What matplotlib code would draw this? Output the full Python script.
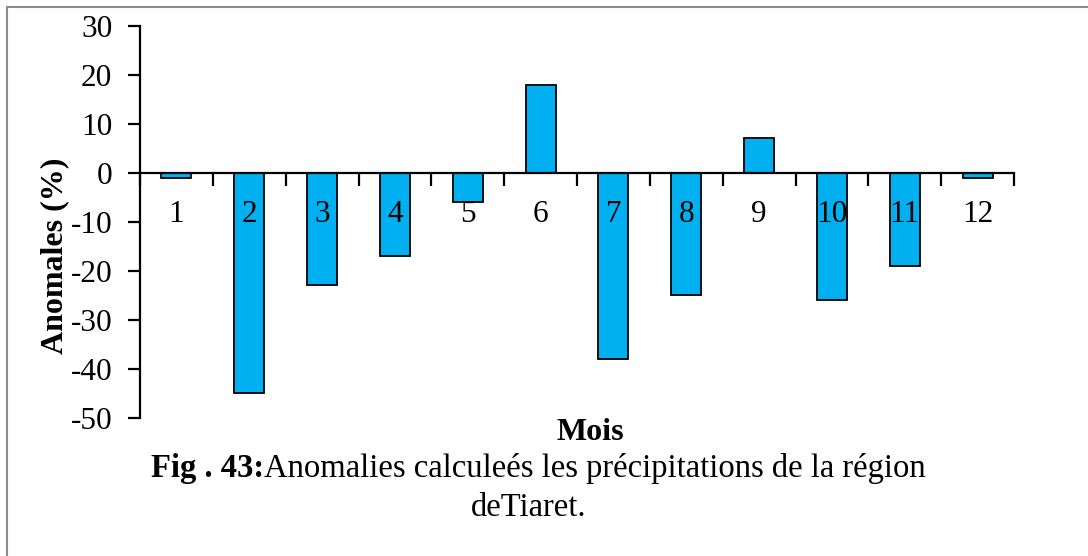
import matplotlib
matplotlib.use("Agg")
import matplotlib.pyplot as plt
from matplotlib.patches import Rectangle
from matplotlib.ticker import FixedLocator

months = ["1", "2", "3", "4", "5", "6", "7", "8", "9", "10", "11", "12"]
anomalies = [-1, -45, -23, -17, -6, 18, -38, -25, 7, -26, -19, -1]
y_ticks = [30, 20, 10, 0, -10, -20, -30, -40, -50]

plt.rcParams["font.family"] = ["Liberation Serif", "DejaVu Serif"]

fig = plt.figure(figsize=(10.88, 5.56), dpi=100)
ax = fig.add_axes([140 / 1088, 1 - 417.7 / 556, (1014 - 140) / 1088, (417.7 - 25.7) / 556])
ax.set_axisbelow(False)

x = list(range(1, len(months) + 1))
ax.bar(x, anomalies, width=0.41, color="#00B0F0", edgecolor="black",
       linewidth=1.3, zorder=2)

ax.set_xlim(0.5, len(months) + 0.5)
ax.set_ylim(-50, 30)

# spines: only left axis and a horizontal axis through zero
for side in ("top", "right"):
    ax.spines[side].set_visible(False)
ax.spines["bottom"].set_position(("data", 0))
ax.spines["bottom"].set_linewidth(1.6)
ax.spines["left"].set_linewidth(1.6)
ax.spines["bottom"].set_zorder(3)

tick_size = 22.5
ax.set_yticks(y_ticks)
ax.set_yticklabels([str(v) for v in y_ticks])
ax.tick_params(axis="y", direction="out", length=9, width=1.6, pad=11,
               labelsize=tick_size)

ax.set_xticks(x)
ax.set_xticklabels(months)
ax.xaxis.set_minor_locator(FixedLocator([i + 0.5 for i in range(0, len(months) + 1)]))
ax.tick_params(axis="x", which="major", length=0, pad=20, labelsize=tick_size)
ax.tick_params(axis="x", which="minor", direction="out", length=9, width=1.6)

# axis titles
fig.text(55 / 1088, 1 - 256 / 556, "Anomales (%)", rotation=90, fontsize=23,
         fontweight="bold", ha="center", va="center")
fig.text(590 / 1088, 1 - 432 / 556, "Mois", fontsize=23, fontweight="bold",
         ha="center", va="center")

# caption with bold figure number followed by regular text
fig.canvas.draw()
renderer = fig.canvas.get_renderer()
cap_size = 23.5
bold_part = fig.text(0, 1 - 469 / 556, "Fig . 43:", fontsize=cap_size,
                     fontweight="bold", ha="left", va="center")
rest_part = fig.text(0, 1 - 469 / 556,
                     "Anomalies calculeés les précipitations de la région",
                     fontsize=cap_size, ha="left", va="center")
w_bold = bold_part.get_window_extent(renderer).width
w_rest = rest_part.get_window_extent(renderer).width
cx = 538
start = cx - (w_bold + w_rest) / 2
bold_part.set_x(start / 1088)
rest_part.set_x((start + w_bold) / 1088)
fig.text(529 / 1088, 1 - 508 / 556, "deTiaret.", fontsize=cap_size,
         ha="center", va="center")

# frame around the figure (top and left edges visible)
fig.patches.append(Rectangle((7 / 1088, -0.05), 1.2, 1 - 7 / 556 + 0.05,
                             transform=fig.transFigure, fill=False,
                             edgecolor="#8c8c8c", linewidth=1.5))

fig.savefig("out.png", dpi=100)
